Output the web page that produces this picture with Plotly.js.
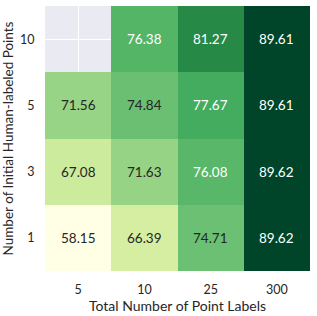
<!DOCTYPE html>
<html><head><meta charset="utf-8">
<script src="https://cdn.plot.ly/plotly-3.0.1.min.js"></script>
<style>html,body{margin:0;padding:0;background:#fff}</style>
</head><body><div id="chart" style="width:317px;height:316px"></div>
<script>
const xLabels = ["5", "10", "25", "300"];
const yLabels = ["1", "3", "5", "10"];
const row1  = [58.15, 66.39, 74.71, 89.62];
const row3  = [67.08, 71.63, 76.08, 89.62];
const row5  = [71.56, 74.84, 77.67, 89.61];
const row10 = [null, 76.38, 81.27, 89.61];
const zValues = [row1, row3, row5, row10];

const ylgn = ["#ffffe5","#f7fcb9","#d9f0a3","#addd8e","#78c679","#41ab5d","#238443","#006837","#004529"];
const colorscale = ylgn.map((c,i)=>[i/(ylgn.length-1), c]);

const flat = zValues.flat().filter(v=>v!==null);
const zmin = Math.min(...flat), zmax = Math.max(...flat);

function hex2rgb(h){return [1,3,5].map(i=>parseInt(h.substr(i,2),16));}
function colorAt(v){
  const t=(v-zmin)/(zmax-zmin)*(ylgn.length-1);
  const i=Math.min(Math.floor(t), ylgn.length-2), f=t-i;
  const a=hex2rgb(ylgn[i]), b=hex2rgb(ylgn[i+1]);
  return a.map((x,k)=>x+(b[k]-x)*f);
}
function lum(rgb){
  const c=rgb.map(x=>{x/=255;return x<=0.03928?x/12.92:Math.pow((x+0.055)/1.055,2.4);});
  return 0.2126*c[0]+0.7152*c[1]+0.0722*c[2];
}

const xIdx = xLabels.map((_,i)=>i);
const yIdx = yLabels.map((_,i)=>i);

const annotations=[];
yIdx.forEach(r=>{
  xIdx.forEach(c=>{
    const v=zValues[r][c];
    if(v===null) return;
    annotations.push({x:c,y:r,xref:'x',yref:'y',text:v.toFixed(2),showarrow:false,
      font:{family:'Lato, DejaVu Sans, sans-serif',size:13.5,color: lum(colorAt(v))>0.408?'#262626':'#ffffff'}});
  });
});

const trace={type:'heatmap',x:xIdx,y:yIdx,z:zValues,colorscale:colorscale,zmin:zmin,zmax:zmax,
  showscale:false,xgap:0,ygap:0,hoverongaps:false};

const layout={
  width:317,height:316,
  margin:{l:45,r:7,t:6,b:45},
  paper_bgcolor:'#ffffff',plot_bgcolor:'#EAEAF2',
  font:{family:'Lato, DejaVu Sans, sans-serif',color:'#262626',size:12.5},
  xaxis:{range:[-0.5,3.5],tickmode:'array',tickvals:xIdx,ticktext:xLabels,showgrid:true,gridcolor:'#ffffff',gridwidth:1,
    zeroline:false,ticks:'outside',ticklen:7,tickcolor:'rgba(0,0,0,0)',tickfont:{size:12.5,color:'#262626'},
    title:{text:'Total Number of Point Labels',font:{size:14,color:'#262626'},standoff:1},automargin:false},
  yaxis:{range:[-0.5,3.5],tickmode:'array',tickvals:yIdx,ticktext:yLabels,showgrid:true,gridcolor:'#ffffff',gridwidth:1,
    zeroline:false,ticks:'outside',ticklen:7,tickcolor:'rgba(0,0,0,0)',tickfont:{size:12.5,color:'#262626'},
    title:{text:'Number of Initial Human-labeled Points',font:{size:13.5,color:'#262626'},standoff:8},automargin:false},
  annotations:annotations
};
Plotly.newPlot('chart',[trace],layout,{displayModeBar:false,staticPlot:true});
</script></body></html>
